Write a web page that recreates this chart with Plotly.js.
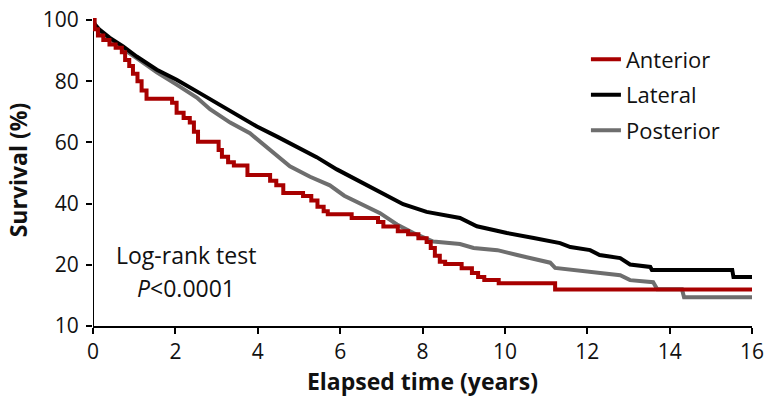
<!DOCTYPE html>
<html>
<head>
<meta charset="utf-8">
<script src="https://cdn.plot.ly/plotly-3.0.1.min.js"></script>
<style>html,body{margin:0;padding:0;background:#fff;}#chart{width:766px;height:400px;}</style>
</head>
<body>
<div id="chart"></div>
<script>
// Series (time in years, survival in axis units)
const anteriorT = [0,0.04,0.12,0.25,0.4,0.55,0.7,0.78,0.88,0.97,1.08,1.18,1.3,1.92,2.03,2.2,2.35,2.45,2.55,3.05,3.13,3.28,3.42,3.75,4.3,4.45,4.62,5.1,5.3,5.45,5.6,5.7,6.28,6.92,7.05,7.4,7.65,7.9,8.1,8.2,8.3,8.42,8.55,8.95,9.2,9.35,9.5,9.85,11.22,16];
const anteriorS = [100,97,95,93.5,92,91,89.5,87,85,82.5,80,77,74.3,73,69.7,68,66.5,63.5,60.2,57.5,55.3,53.5,52.5,49.4,47.5,46,43.5,42.5,41,39,37.5,36.5,35.3,34,32.5,31,30,28.7,27.5,25.5,23,21,20.3,18.9,17.3,16,15,14,11.9,11.9];

const lateralT = [0,0.05,0.15,0.4,0.73,1.06,1.55,2.03,2.52,3.0,3.5,3.98,4.47,4.95,5.43,5.92,6.41,6.8,7.21,7.53,8.1,8.91,9.32,10.05,10.7,11.34,11.59,12.07,12.3,12.8,13.04,13.53,13.57,15.52,15.55,16];
const lateralS = [100,98.5,97,94.3,91.4,88.1,83.8,80.5,76.7,73,69.1,65.2,61.9,58.6,55.2,51.2,47.8,45.1,42.2,39.8,37.3,35.3,32.6,30.4,28.8,27.1,25.8,24.8,23.2,22.2,20.1,19.3,18.3,18.3,16,16];

const posteriorT = [0,0.05,0.15,0.4,0.73,1.06,1.55,2.03,2.52,2.84,3.33,3.81,4.3,4.78,5.27,5.75,6.1,6.56,6.97,7.38,7.78,8.26,8.91,9.24,9.82,10.3,10.8,11.1,11.22,11.65,12.07,12.8,13.04,13.6,13.7,14.3,14.35,16];
const posteriorS = [100,98,96.5,93.8,90.6,87.6,82.9,78.9,74.7,70.9,66.5,63.0,57.6,52.2,48.8,46,42.6,39.6,36.9,33.2,30.4,27.6,26.8,25.5,24.8,23.2,21.8,20.7,19,18.3,17.6,16.6,15,14.3,12,12,9.4,9.4];

const seriesNames = ["Anterior","Lateral","Posterior"];
const xTickVals = [0,2,4,6,8,10,12,14,16];
const yTickVals = [0,20,40,60,80,100];
const yTickText = ["10","20","40","60","80","100"];

const FONT = "Open Sans, Noto Sans, sans-serif";
const TXT = "#111111";

const traces = [
  {x: posteriorT, y: posteriorS, name: seriesNames[2], legendgroup: "p", legendrank: 3, mode: "lines",
   line: {color: "#6e6e6e", width: 4, shape: "linear"}},
  {x: lateralT, y: lateralS, name: seriesNames[1], legendgroup: "l", legendrank: 2, mode: "lines",
   line: {color: "#000000", width: 4, shape: "linear"}},
  {x: anteriorT, y: anteriorS, name: seriesNames[0], legendgroup: "a", legendrank: 1, mode: "lines",
   line: {color: "#a80000", width: 4, shape: "hv"}}
];

const layout = {
  width: 766, height: 400,
  margin: {l: 93, r: 14, t: 14, b: 74},
  paper_bgcolor: "#fff", plot_bgcolor: "#fff",
  font: {family: FONT, color: TXT},
  showlegend: true,
  legend: {x: 0.748, y: 0.922, xanchor: "left", yanchor: "top", traceorder: "grouped",
           tracegroupgap: 4, font: {size: 22, family: FONT, color: TXT}, bgcolor: "rgba(0,0,0,0)"},
  xaxis: {range: [0,16], tickvals: xTickVals, ticktext: xTickVals.map(String),
          ticks: "outside", ticklen: 6, tickwidth: 2, tickcolor: "#000",
          showline: true, linecolor: "#000", linewidth: 2, showgrid: false, zeroline: false,
          tickfont: {size: 21, family: FONT, color: TXT},
          title: {text: "<b>Elapsed time (years)</b>", font: {size: 23, family: FONT, color: TXT}, standoff: 8}},
  yaxis: {range: [0,102], tickvals: yTickVals, ticktext: yTickText,
          ticks: "outside", ticklen: 6, tickwidth: 2, tickcolor: "#000", ticklabelstandoff: 3,
          showline: false, showgrid: false, zeroline: false,
          tickfont: {size: 21, family: FONT, color: TXT},
          title: {text: "<b>Survival (%)</b>", font: {size: 23, family: FONT, color: TXT}, standoff: 8}},
  shapes: [
    {type: "line", xref: "x", yref: "y", x0: 0, x1: 0, y0: 0, y1: 100, line: {color: "#000", width: 2}, layer: "below"}
  ],
  annotations: [
    {x: 2.25, y: 23.1, xref: "x", yref: "y", text: "Log-rank test", showarrow: false,
     font: {size: 23, family: FONT, color: TXT}, xanchor: "center", yanchor: "middle"},
    {x: 2.25, y: 12.4, xref: "x", yref: "y", text: "<i>P</i>&lt;0.0001", showarrow: false,
     font: {size: 23, family: FONT, color: TXT}, xanchor: "center", yanchor: "middle"}
  ]
};

Plotly.newPlot("chart", traces, layout, {displayModeBar: false, staticPlot: true});
</script>
</body>
</html>
